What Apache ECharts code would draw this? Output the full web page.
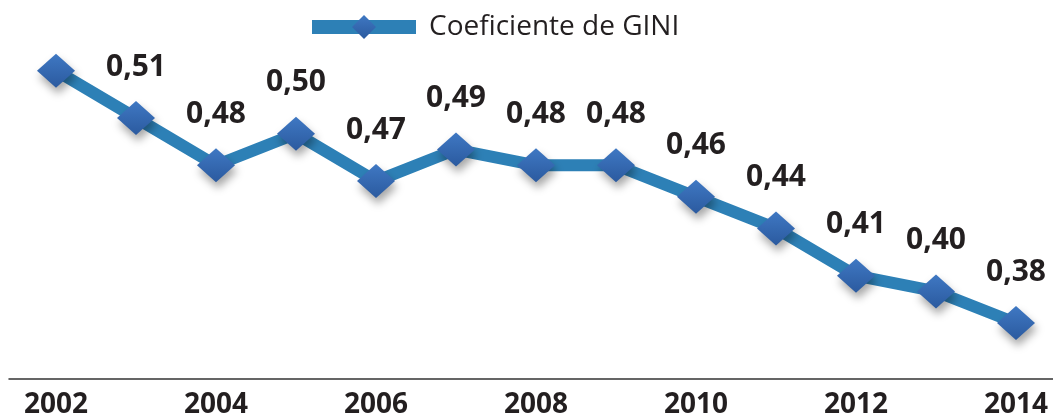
<!DOCTYPE html>
<html>
<head>
<meta charset="utf-8">
<script src="https://cdn.jsdelivr.net/npm/echarts@6/dist/echarts.min.js"></script>
<style>html,body{margin:0;padding:0;background:#fff;}#c{width:1053px;height:420px;}</style>
</head>
<body>
<div id="c"></div>
<script>
const seriesName = 'Coeficiente de GINI';
const years = [2002, 2003, 2004, 2005, 2006, 2007, 2008, 2009, 2010, 2011, 2012, 2013, 2014];
const gini = [0.54, 0.51, 0.48, 0.50, 0.47, 0.49, 0.48, 0.48, 0.46, 0.44, 0.41, 0.40, 0.38];
const labelledFrom = 2003;
const tickYears = [2002, 2004, 2006, 2008, 2010, 2012, 2014];

const chart = echarts.init(document.getElementById('c'));
const data = years.map((y, i) => ({
  value: [y, gini[i]],
  label: { show: y >= labelledFrom }
}));
chart.setOption({
  animation: false,
  backgroundColor: '#fff',
  legend: {
    top: 8,
    left: 300,
    itemWidth: 104,
    itemHeight: 30,
    itemGap: 10,
    lineStyle: { width: 14, color: '#2d80b6' },
    textStyle: { fontFamily: 'Open Sans', fontSize: 28, color: '#231f20', padding: [0, 0, 0, 8] },
    data: [seriesName]
  },
  grid: { left: 9, right: 0, top: 0, bottom: 41 },
  xAxis: {
    type: 'value',
    min: 2002 - 47 / 80,
    max: 2014 + 37 / 80,
    splitLine: { show: false },
    axisTick: { show: false },
    axisLine: { show: true, lineStyle: { color: '#333', width: 1.5 } },
    axisLabel: {
      customValues: tickYears,
      formatter: v => String(v),
      fontFamily: 'Open Sans',
      fontWeight: 'bold',
      fontSize: 28,
      color: '#231f20',
      margin: 12
    }
  },
  yAxis: {
    type: 'value',
    min: 0.3445,
    max: 0.5848,
    show: false,
    splitLine: { show: false }
  },
  series: [{
    name: seriesName,
    type: 'line',
    data: data,
    symbol: 'diamond',
    symbolSize: [38, 34],
    lineStyle: { color: '#2d80b6', width: 12 },
    itemStyle: {
      color: new echarts.graphic.LinearGradient(0, 0, 0, 1, [
        { offset: 0, color: '#3f78c3' },
        { offset: 1, color: '#2b5a9f' }
      ]),
      shadowColor: 'rgba(0,0,0,0.35)',
      shadowBlur: 8,
      shadowOffsetX: 2,
      shadowOffsetY: 6
    },
    label: {
      position: 'top',
      distance: 19,
      fontFamily: 'Open Sans',
      fontWeight: 'bold',
      fontSize: 30,
      color: '#231f20',
      formatter: p => p.value[1].toFixed(2).replace('.', ',')
    }
  }]
});
</script>
</body>
</html>
